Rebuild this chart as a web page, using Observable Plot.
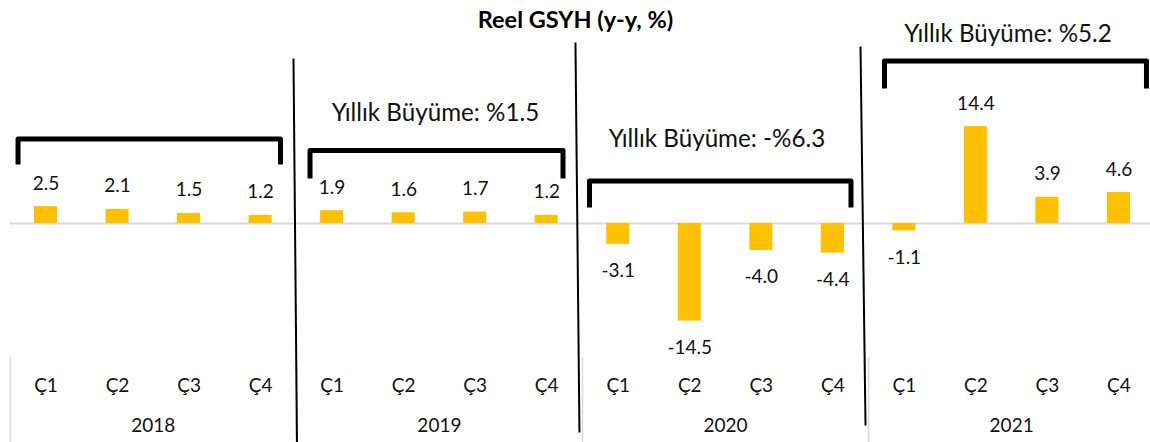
<!DOCTYPE html>
<html>
<head>
<meta charset="utf-8">
<script src="https://cdn.jsdelivr.net/npm/d3@7"></script>
<script src="https://cdn.jsdelivr.net/npm/@observablehq/plot@0.6"></script>
<style>
  html, body { margin: 0; padding: 0; background: #fff; }
  #chart svg { display: block; font-family: Lato, "Open Sans", sans-serif; }
</style>
</head>
<body>
<div id="chart"></div>
<script>
// ---- data ----
const title = "Reel GSYH (y-y, %)";
const years = ["2018", "2019", "2020", "2021"];
const quarters = ["Ç1", "Ç2", "Ç3", "Ç4"];
const values = [2.5, 2.1, 1.5, 1.2, 1.9, 1.6, 1.7, 1.2, -3.1, -14.5, -4.0, -4.4, -1.1, 14.4, 3.9, 4.6];
const valueLabels = ["2.5", "2.1", "1.5", "1.2", "1.9", "1.6", "1.7", "1.2", "-3.1", "-14.5", "-4.0", "-4.4", "-1.1", "14.4", "3.9", "4.6"];
const growthLabels = ["", "Yıllık Büyüme: %1.5", "Yıllık Büyüme: -%6.3", "Yıllık Büyüme: %5.2"];

// ---- annotation geometry (in data units: x = quarter index, y = %) ----
const bracketLeft = [-0.391, 3.691, 7.598, 11.722];
const bracketRight = [3.278, 7.228, 11.254, 15.385];
const bracketTop = [12.56, 10.85, 6.32, 24.15];
const bracketBottom = [8.77, 6.69, 2.38, 20.06];
const sepTopX = [3.46, 7.402, 11.387];
const sepBottomX = [3.509, 7.458, 11.457];
const sepTopY = [24.52, 26.89, 26.3];
const sepBottomY = [-32.6, -31.05, -30.0];
const growthX = [0, 5.445, 9.38, 13.45];
const growthY = [0, 15.16, 11.44, 26.94];

const rows = values.map((v, i) => ({
  i, v, label: valueLabels[i], q: quarters[i % 4], year: years[Math.floor(i / 4)]
}));

const brackets = years.flatMap((y, g) => [
  {g, x: bracketLeft[g], y: bracketBottom[g]},
  {g, x: bracketLeft[g], y: bracketTop[g]},
  {g, x: bracketRight[g], y: bracketTop[g]},
  {g, x: bracketRight[g], y: bracketBottom[g]}
]);
const seps = sepTopX.map((x, k) => ({x1: x, y1: sepTopY[k], x2: sepBottomX[k], y2: sepBottomY[k]}));
const growth = growthLabels.map((t, g) => ({t, x: growthX[g], y: growthY[g]})).filter(d => d.t);
const yearRows = years.map((y, g) => ({year: y, x: g * 4 + 1.5}));
const groupEdges = [-0.5, 3.5, 7.5, 11.5, 15.5];

const chart = Plot.plot({
  width: 1150,
  height: 442,
  marginTop: 0, marginBottom: 0, marginLeft: 0, marginRight: 0,
  x: {type: "linear", domain: [-0.5, 15.5], range: [9.74, 1154.2], axis: null},
  y: {type: "linear", domain: [-20, 20], range: [357.6, 88.4], axis: null},
  marks: [
    Plot.ruleX(groupEdges, {y1: -19.9, y2: -32.6, stroke: "#d9d9d9", strokeWidth: 1.5}),
    Plot.ruleY([0], {x1: -0.5, x2: 15.5, stroke: "#d9d9d9", strokeWidth: 2}),
    Plot.rect(rows, {x1: d => d.i - 0.161, x2: d => d.i + 0.161, y1: 0, y2: "v", fill: "#FFC000"}),
    Plot.text(rows.filter(d => d.v >= 0), {x: "i", y: "v", text: "label", dy: -17, lineAnchor: "bottom", fontSize: 19, fill: "#111"}),
    Plot.text(rows.filter(d => d.v < 0), {x: "i", y: "v", text: "label", dy: 33, lineAnchor: "bottom", fontSize: 19, fill: "#111"}),
    Plot.text(rows, {x: "i", y: -25.1, text: "q", lineAnchor: "bottom", fontSize: 19, fill: "#111"}),
    Plot.text(yearRows, {x: "x", y: -31.05, text: "year", lineAnchor: "bottom", fontSize: 19, fill: "#111"}),
    Plot.link(seps, {x1: "x1", y1: "y1", x2: "x2", y2: "y2", stroke: "#000", strokeWidth: 2}),
    Plot.line(brackets, {x: "x", y: "y", z: "g", stroke: "#000", strokeWidth: 5, strokeLinejoin: "round", strokeLinecap: "butt"}),
    Plot.text(growth, {x: "x", y: "y", text: "t", lineAnchor: "bottom", fontSize: 24.2, fill: "#111"}),
    Plot.text([title], {frameAnchor: "top", dy: 27, lineAnchor: "bottom", fontSize: 23.5, fontWeight: "bold", fill: "#000"})
  ]
});
document.getElementById("chart").appendChild(chart);
</script>
</body>
</html>
